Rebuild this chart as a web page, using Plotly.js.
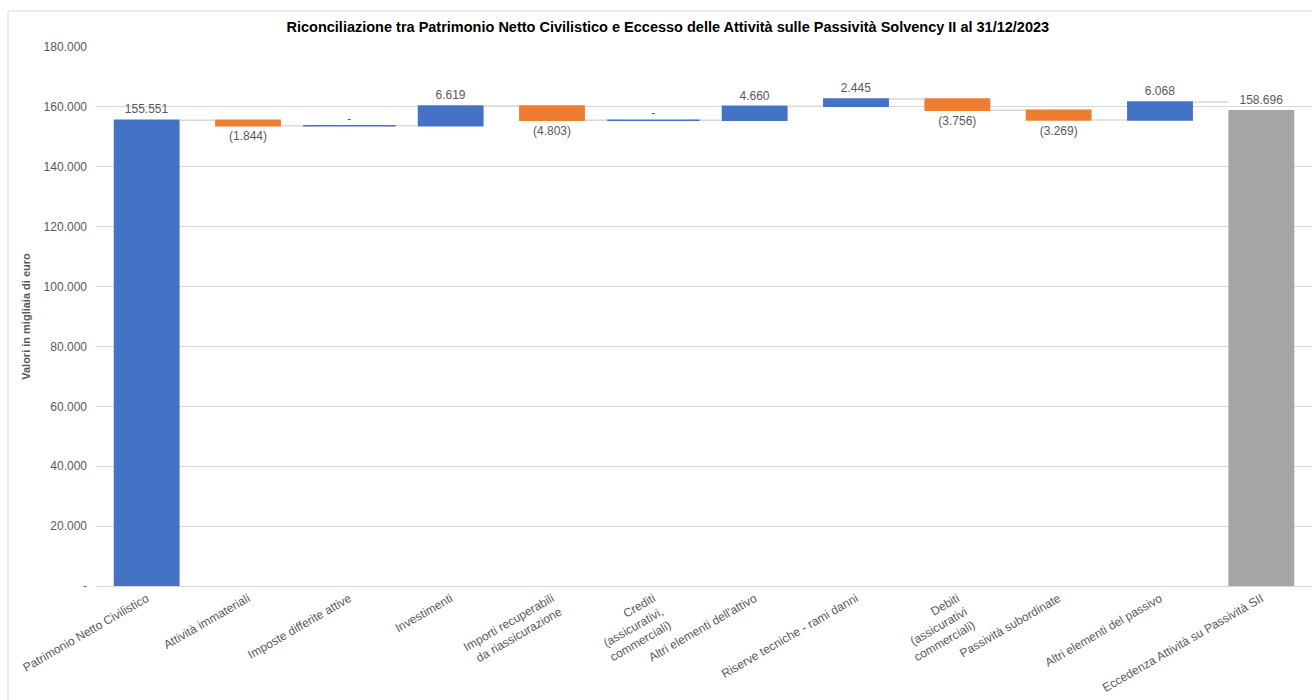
<!DOCTYPE html>
<html>
<head>
<meta charset="utf-8">
<script src="https://cdn.plot.ly/plotly-3.0.1.min.js"></script>
<style>html,body{margin:0;padding:0;background:#fff;}#chart{width:1312px;height:700px;}</style>
</head>
<body>
<div id="chart"></div>
<script>
const categories = [
  "Patrimonio Netto Civilistico",
  "Attività immateriali",
  "Imposte differite attive",
  "Investimenti",
  "Importi recuperabili<br>da riassicurazione",
  "Crediti<br>(assicurativi,<br>commerciali)",
  "Altri elementi dell'attivo",
  "Riserve tecniche - rami danni",
  "Debiti<br>(assicurativi<br>commerciali)",
  "Passività subordinate",
  "Altri elementi del passivo",
  "Eccedenza Attività su Passività SII"
];
const values = [155551, -1844, 0, 6619, -4803, 0, 4660, 2445, -3756, -3269, 6068, 158696];
const measures = ["relative","relative","relative","relative","relative","relative","relative","relative","relative","relative","relative","absolute"];
const yTickVals = [0, 20000, 40000, 60000, 80000, 100000, 120000, 140000, 160000, 180000];
const yTickText = ["-", "20.000", "40.000", "60.000", "80.000", "100.000", "120.000", "140.000", "160.000", "180.000"];

function sep(n){ return String(n).replace(/\B(?=(\d{3})+(?!\d))/g, "."); }
function fmt(v){ if (v === 0) return ""; return v < 0 ? "(" + sep(-v) + ")" : sep(v); }

// running levels for zero-valued items (drawn as thin lines, like Excel)
const zeroX = [], zeroY = [], zeroT = [];
let level = 0;
values.forEach((v, i) => {
  if (measures[i] === "absolute") level = v; else level += v;
  if (v === 0) { zeroX.push(categories[i]); zeroY.push(level); zeroT.push("-"); }
});

const labelFont = {family: "Liberation Sans, Arial, sans-serif", size: 12, color: "#595959"};

const waterfall = {
  type: "waterfall",
  x: categories,
  y: values,
  measure: measures,
  text: values.map(fmt),
  textposition: "outside",
  textfont: labelFont,
  cliponaxis: false,
  increasing: {marker: {color: "#4472C4"}},
  decreasing: {marker: {color: "#ED7D31"}},
  totals: {marker: {color: "#A5A5A5"}},
  connector: {mode: "between", line: {color: "#D9D9D9", width: 1.5}},
  hoverinfo: "x+y",
  showlegend: false
};

const zeroLines = {
  type: "scatter",
  x: zeroX,
  y: zeroY,
  mode: "markers",
  marker: {symbol: "line-ew", size: 66, color: "#4472C4", line: {color: "#4472C4", width: 1.5}},
  cliponaxis: false,
  hoverinfo: "skip",
  showlegend: false
};

const zeroLabels = {
  type: "scatter",
  x: zeroX,
  y: zeroY,
  text: zeroT,
  mode: "text",
  textposition: "top center",
  textfont: labelFont,
  cliponaxis: false,
  hoverinfo: "skip",
  showlegend: false
};

const layout = {
  width: 1312,
  height: 700,
  margin: {l: 96, r: 0, t: 47, b: 114},
  paper_bgcolor: "#ffffff",
  plot_bgcolor: "#ffffff",
  font: {family: "Liberation Sans, Arial, sans-serif", color: "#595959"},
  title: {
    text: "<b>Riconciliazione tra Patrimonio Netto Civilistico e Eccesso delle Attività sulle Passività Solvency II al 31/12/2023</b>",
    font: {family: "Liberation Sans, Arial, sans-serif", size: 14.5, color: "#000000"},
    x: 0.509, xref: "container", xanchor: "center",
    y: 1 - 27/700, yref: "container", yanchor: "middle"
  },
  waterfallgap: 0.35,
  xaxis: {
    type: "category",
    tickangle: -30,
    tickfont: labelFont,
    showgrid: false,
    showline: true,
    linecolor: "#D9D9D9",
    linewidth: 1,
    ticks: "",
    automargin: false
  },
  yaxis: {
    range: [0, 180000],
    tickvals: yTickVals,
    ticktext: yTickText,
    tickfont: labelFont,
    ticklabelstandoff: 8,
    showgrid: true,
    gridcolor: "#D9D9D9",
    gridwidth: 1,
    zeroline: false,
    showline: false,
    ticks: "",
    automargin: false,
    title: {text: "<b>Valori in migliaia di euro</b>", font: {family: "Liberation Sans, Arial, sans-serif", size: 11, color: "#595959"}, standoff: 10}
  },
  shapes: [{
    type: "rect", xref: "paper", yref: "paper",
    x0: (8 - 96) / 1216, x1: 1.02, y0: -0.3, y1: (586 - 11) / 539,
    line: {color: "#D9D9D9", width: 1}, fillcolor: "rgba(0,0,0,0)", layer: "below"
  }]
};

Plotly.newPlot("chart", [waterfall, zeroLines, zeroLabels], layout, {displayModeBar: false, staticPlot: true});
</script>
</body>
</html>
